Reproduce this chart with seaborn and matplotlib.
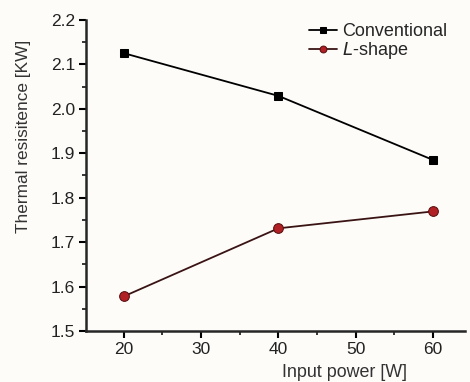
import matplotlib
matplotlib.use("Agg")
import matplotlib.pyplot as plt
import seaborn as sns
import pandas as pd
from matplotlib.ticker import MultipleLocator

power = [20, 40, 60]
conventional = [2.125, 2.029, 1.885]
lshape = [1.578, 1.731, 1.769]

sns.set_style("ticks")
plt.rcParams['font.family'] = ['Liberation Sans', 'DejaVu Sans']

df = pd.DataFrame({
    "power": power * 2,
    "value": conventional + lshape,
    "series": ["Conventional"] * 3 + ["$\\it{L}$-shape"] * 3,
})

fig = plt.figure(figsize=(4.70, 3.82), dpi=100, facecolor="#fdfcf9")
ax = fig.add_axes([0.183, 0.1335, 0.807, 0.8145])
ax.set_facecolor("#fdfcf9")

sns.lineplot(data=df[df.series == "Conventional"], x="power", y="value", ax=ax,
             color="black", marker="s", markersize=6, markeredgecolor="black",
             linewidth=1.3, label="Conventional")
sns.lineplot(data=df[df.series != "Conventional"], x="power", y="value", ax=ax,
             color="#3a1414", marker="o", markersize=7, markerfacecolor="#b02025",
             markeredgecolor="#5a1010", linewidth=1.3, label="$\\it{L}$-shape")

ax.set_xlim(15.1, 64.2)
ax.set_ylim(1.5, 2.2)
ax.xaxis.set_major_locator(MultipleLocator(10))
ax.xaxis.set_minor_locator(MultipleLocator(5))
ax.yaxis.set_major_locator(MultipleLocator(0.1))
ax.yaxis.set_minor_locator(MultipleLocator(0.05))
ax.yaxis.set_major_formatter(plt.FormatStrFormatter("%.1f"))
sns.despine(ax=ax)
for s in ["left", "bottom"]:
    ax.spines[s].set_linewidth(1.8)
ax.tick_params(which="major", direction="out", length=5, width=1.5, labelsize=12.5, colors="black", pad=3)
ax.tick_params(which="minor", direction="out", length=3, width=1.3)
ax.tick_params(axis="y", labelcolor="#222222")
ax.tick_params(axis="x", labelcolor="#222222")

ax.set_xlabel("Input power [W]", fontsize=12.9, color="#333333")
ax.set_ylabel("Thermal resisitence [KW]", fontsize=12.4, color="#333333")
ax.xaxis.set_label_coords(0.681, -0.105)
ax.yaxis.set_label_coords(-0.145, 0.625)

leg = ax.legend(loc="upper right", bbox_to_anchor=(0.971, 1.012), frameon=False, fontsize=13.0,
                handlelength=1.6, handletextpad=0.25, labelspacing=0.0, borderaxespad=0.0,
                markerscale=0.7)

fig.savefig("out.png", dpi=100, facecolor=fig.get_facecolor())
